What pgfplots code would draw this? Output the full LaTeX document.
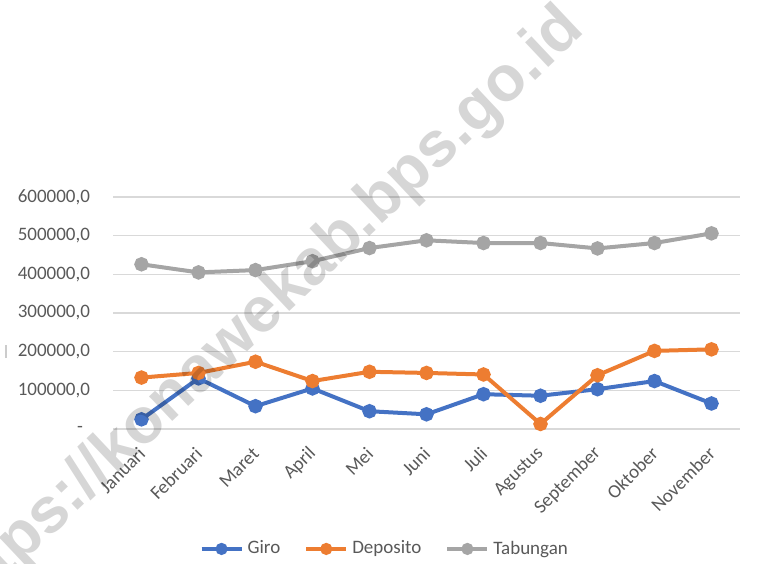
\documentclass[border=0pt]{standalone}
\usepackage{pgfplots}
\pgfplotsset{compat=1.18}
\usepackage{fontspec}
\setmainfont{Carlito}
\newfontfamily\wmfont{Liberation Sans}
\definecolor{giro}{HTML}{4472C4}
\definecolor{deposito}{HTML}{ED7D31}
\definecolor{tabungan}{HTML}{A5A5A5}
\definecolor{ticktext}{HTML}{595959}
\definecolor{gridc}{HTML}{D9D9D9}

\begin{document}
\begin{tikzpicture}[x=1pt,y=1pt]
\useasboundingbox (-56.5,-67) rectangle (323.5,214.5);
\begin{axis}[
  at={(0,0)}, anchor=south west,
  scale only axis,
  width=313.5pt, height=116pt,
  xmin=-0.5, xmax=10.5,
  ymin=0, ymax=600000,
  scaled y ticks=false,
  xtick={0,...,10},
  xticklabels={Januari,Februari,Maret,April,Mei,Juni,Juli,Agustus,September,Oktober,November},
  ytick={0,100000,200000,300000,400000,500000,600000},
  yticklabels={-\kern3.5pt,{100000,0},{200000,0},{300000,0},{400000,0},{500000,0},{600000,0}},
  ymajorgrids,
  major grid style={gridc, line width=0.6pt},
  axis line style={draw=none},
  major tick length=0pt,
  tick label style={font=\fontsize{9.5}{10}\selectfont, text=ticktext},
  yticklabel style={xshift=-8pt},
  xticklabel style={yshift=-10pt, xshift=1pt, rotate=45, anchor=east, inner sep=1pt},
  legend style={at={(0.435,-0.517)}, anchor=center, draw=none,
    font=\fontsize{9.5}{10}\selectfont, text=ticktext,
    /tikz/every even column/.append style={column sep=10pt}},
  legend columns=3,
  legend image code/.code={
    \draw[#1, mark=none] (0pt,0pt) -- (20pt,0pt);
    \draw[#1, only marks, mark size=2pt] plot coordinates {(10pt,0pt)};
  },
  every axis plot/.append style={line width=2pt, mark=*, mark size=2.6pt},
]
\addplot[giro, mark options={fill=giro}] coordinates {
  (0,25000) (1,131000) (2,59000) (3,105000) (4,46000) (5,38000)
  (6,90000) (7,86000) (8,103000) (9,124000) (10,66000)
};
\addlegendentry{Giro}
\addplot[deposito, mark options={fill=deposito}] coordinates {
  (0,133000) (1,145000) (2,174000) (3,124000) (4,148000) (5,145000)
  (6,141000) (7,13000) (8,139000) (9,202000) (10,206000)
};
\addlegendentry{Deposito}
\addplot[tabungan, mark options={fill=tabungan}] coordinates {
  (0,426000) (1,405000) (2,411000) (3,434000) (4,468000) (5,488000)
  (6,481000) (7,481000) (8,467000) (9,481000) (10,506000)
};
\addlegendentry{Tabungan}
\end{axis}
\draw[black!20, line width=0.6pt] (-53.5,35.5) -- (-53.5,42);
\node[rotate=43.3, text=black, opacity=0.16, font=\wmfont\bfseries\fontsize{32}{32}\selectfont]
  at (74.5,57) {https://konawekab.bps.go.id};
\end{tikzpicture}
\end{document}
